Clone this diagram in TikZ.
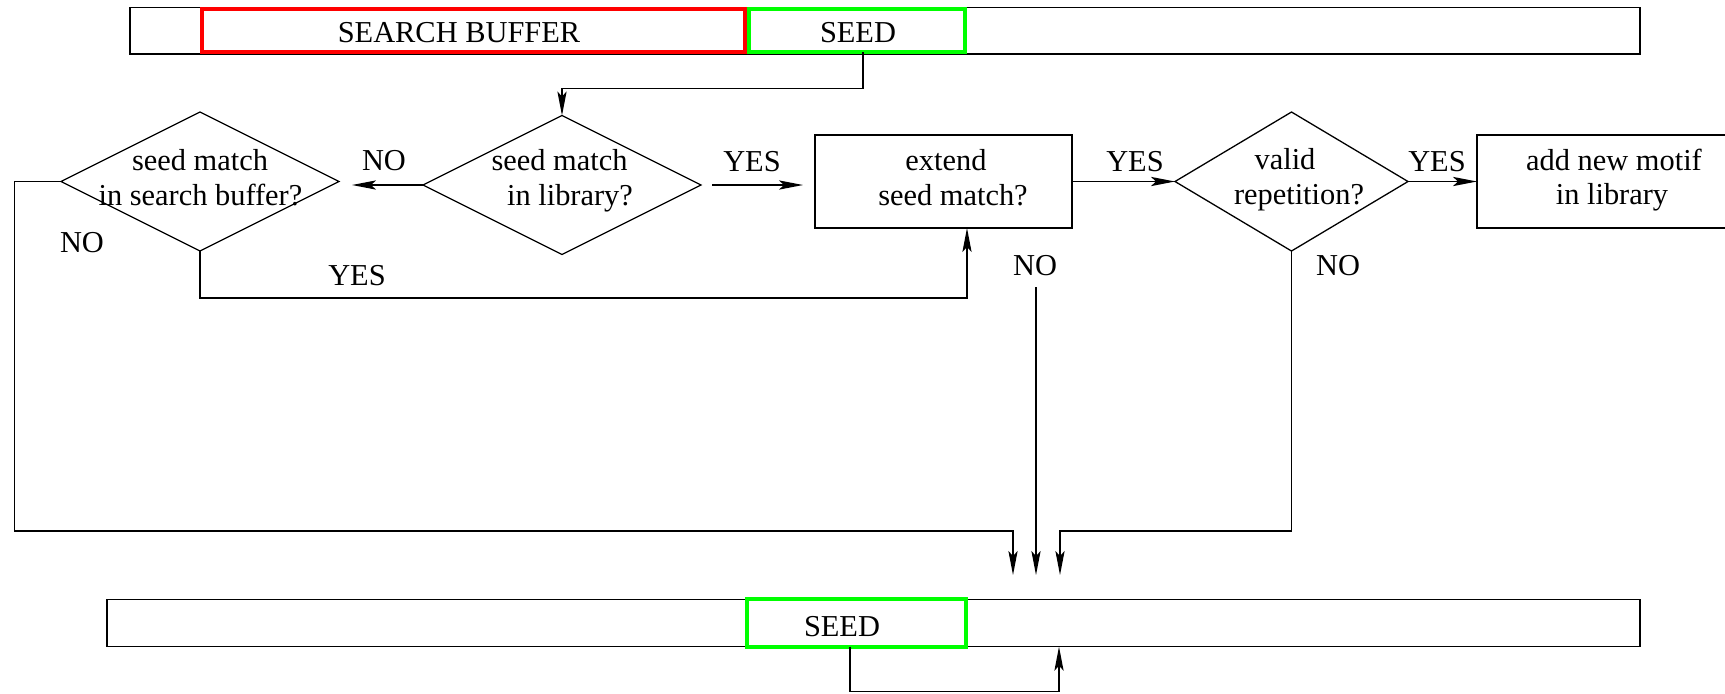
\documentclass[tikz,border=0pt]{standalone}
\usepackage{fontspec}
\setmainfont{Liberation Serif}
\usetikzlibrary{arrows.meta,shapes.geometric}
\definecolor{pred}{RGB}{255,0,0}
\definecolor{pgreen}{RGB}{0,255,0}
\begin{document}
\begin{tikzpicture}[x=0.5pt,y=-0.5pt,
  line width=0.65pt,
  every node/.style={inner sep=0pt,outer sep=0pt},
  txt/.style={font=\fontsize{15.2pt}{17.5pt}\selectfont,anchor=base},
  barbox/.style={draw,rectangle,line width=0.65pt},
  redbox/.style={draw=pred,rectangle,line width=2pt},
  grnbox/.style={draw=pgreen,rectangle,line width=2pt},
  decision/.style={draw,diamond,line width=0.65pt,minimum height=69.5pt},
  stepbox/.style={draw,rectangle,line width=0.65pt,minimum height=46.5pt},
  arr/.style={-{Stealth[length=12pt,width=4.6pt,inset=2.5pt]}},
]
\useasboundingbox (0,0) rectangle (1725,693);
\clip (0,0) rectangle (1725,693);

% top bar
\node[barbox,minimum width=755pt,minimum height=23.3pt] (topbar) at (885,30.7) {};
\node[redbox,minimum width=271.5pt,minimum height=21.5pt] (sb) at (473.5,30.7) {};
\node[grnbox,minimum width=108pt,minimum height=21.5pt] (seed1) at (857,30.7) {};
\node[txt] (tsb) at (459,42) {SEARCH BUFFER};
\node[txt] (tseed1) at (858,42) {SEED};

% decisions
\node[decision,minimum width=139pt] (d1) at (562,185) {};
\node[decision,minimum width=139pt] (d2) at (200,181.5) {};
\node[decision,minimum width=116.5pt] (d3) at (1291.5,181.5) {};
\node[stepbox,minimum width=128.5pt] (ext) at (943.5,181.5) {};
\node[stepbox,minimum width=136pt] (add) at (1613,181.5) {};

\node[txt] (d1a) at (559.5,170) {seed match};
\node[txt] (d1b) at (570,205) {in library?};
\node[txt] (d2a) at (200,170) {seed match};
\node[txt] (d2b) at (200.5,205) {in search buffer?};
\node[txt] (d3a) at (1285,169) {valid};
\node[txt] (d3b) at (1299,204) {repetition?};
\node[txt] (exta) at (946,170) {extend};
\node[txt] (extb) at (953,205) {seed match?};
\node[txt] (adda) at (1614,170) {add new motif};
\node[txt] (addb) at (1612,204) {in library};

% bottom bar
\node[barbox,minimum width=766.5pt,minimum height=23.7pt] (botbar) at (873.5,623) {};
\node[grnbox,minimum width=109.5pt,minimum height=23.7pt] (seed2) at (856.5,623) {};
\node[txt] (tseed2) at (842,636) {SEED};

% labels
\node[txt] (lno1) at (384,170) {NO};
\node[txt] (lyes1) at (752,171) {YES};
\node[txt] (lyes2) at (1135,171) {YES};
\node[txt] (lyes3) at (1437,171) {YES};
\node[txt] (lno2) at (82,252) {NO};
\node[txt] (lyes4) at (357,285) {YES};
\node[txt] (lno3) at (1035,275) {NO};
\node[txt] (lno4) at (1338,275) {NO};

% coordinates
\coordinate (c1) at (1013,575);
\coordinate (c2) at (1036,575);
\coordinate (c3) at (1060,575);
\coordinate (m0) at (1036,287);
\coordinate (lft) at (14.5,531);

% connectors
\draw[arr] ([shift={(6,0)}]seed1.south) -- ++(0,36) -| (d1.north);
\draw[arr,shorten >=6.5pt] (d1.west) -- (d1.west -| d2.east);
\draw[arr,shorten <=5.5pt,shorten >=6pt] (d1.east) -- (d1.east -| ext.west);
\draw[arr] (ext.east) -- (d3.west);
\draw[arr] (d3.east) -- (add.west);
\draw[arr] (d2.south) -- ++(0,47) -| ([shift={(23.5,0)}]ext.south);
\draw[arr] (d2.west) -| (lft) -| (c1);
\draw[arr] (m0) -- (c2);
\draw[arr] (d3.south) |- (c3 |- lft) -- (c3);
\draw[arr] ([shift={(-6.5,0)}]seed2.south) -- ++(0,45) -| ([shift={(185.5,0)}]botbar.south);
\end{tikzpicture}
\end{document}
